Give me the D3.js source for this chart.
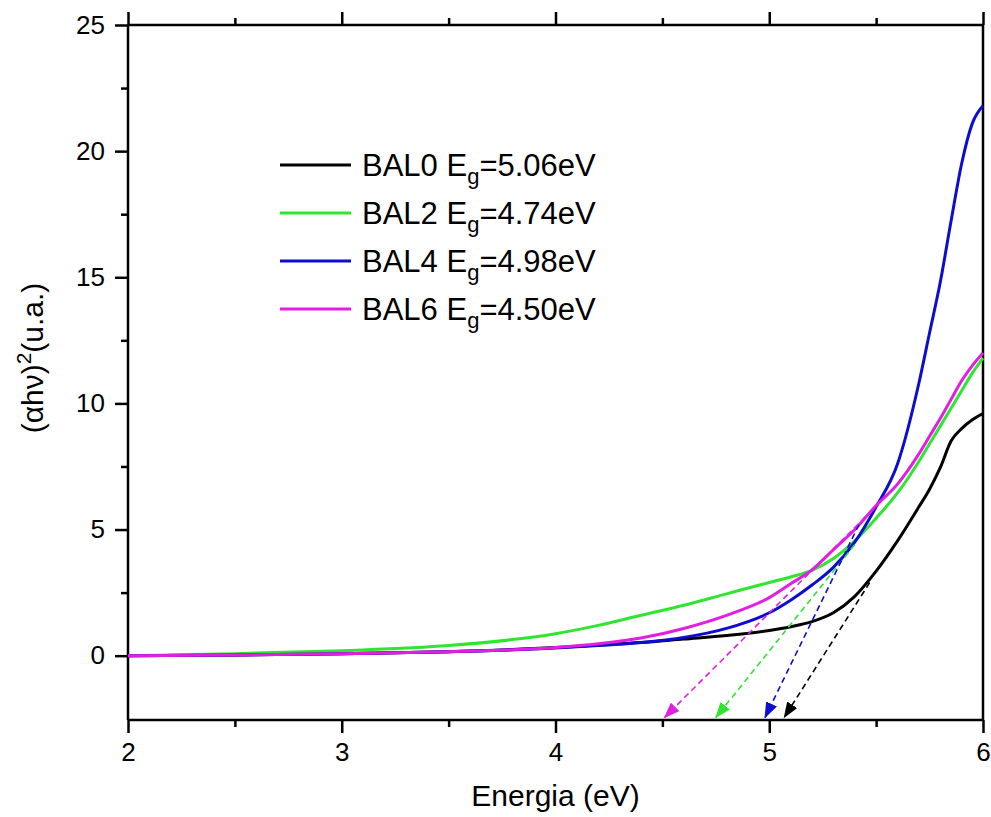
<!DOCTYPE html>
<html>
<head>
<meta charset="utf-8">
<script src="https://cdn.jsdelivr.net/npm/d3@7"></script>
<style>
  body { margin: 0; background: #fff; }
  text { font-family: "Liberation Sans", Arial, sans-serif; fill: #000; }
</style>
</head>
<body>
<div id="chart"></div>
<script>
var width = 991;
var height = 817;
var margin = {top: 25, right: 8, bottom: 97, left: 128};

// energy grid (eV)
var energy = [2, 2.5, 3, 3.5, 4, 4.2, 4.4, 4.6, 4.8, 5, 5.1, 5.2, 5.3, 5.4, 5.5, 5.6, 5.7, 5.75, 5.8, 5.85, 5.9, 5.95, 6];

var bal0 = [0, 0.03, 0.08, 0.16, 0.32, 0.42, 0.52, 0.66, 0.80, 1.0, 1.15, 1.35, 1.7, 2.35, 3.35, 4.55, 5.9, 6.6, 7.45, 8.5, 9.0, 9.35, 9.6];
var bal2 = [0, 0.08, 0.2, 0.4, 0.87, 1.2, 1.6, 2.0, 2.45, 2.9, 3.12, 3.38, 3.85, 4.55, 5.45, 6.45, 7.7, 8.4, 9.1, 9.8, 10.5, 11.2, 11.8];
var bal4 = [0, 0.03, 0.08, 0.16, 0.3, 0.4, 0.52, 0.72, 1.08, 1.7, 2.2, 2.8, 3.5, 4.5, 5.9, 7.6, 10.8, 12.8, 14.8, 17.2, 19.5, 21.1, 21.8];
var bal6 = [0, 0.03, 0.08, 0.16, 0.32, 0.47, 0.7, 1.08, 1.6, 2.3, 2.85, 3.4, 4.2, 5.0, 5.95, 6.8, 8.0, 8.7, 9.4, 10.15, 10.9, 11.5, 12.0];

var names = ['BAL0', 'BAL2', 'BAL4', 'BAL6'];
var gaps = ['5.06', '4.74', '4.98', '4.50'];
var colors = ['#000000', '#2ee62e', '#0d0dd0', '#e21ee2'];

// tangent lines: start point on curve -> Eg on axis
var tanX0 = [5.47, 5.40, 5.42, 5.45];
var tanY0 = [2.9, 4.4, 5.2, 5.5];
var tanEnd = [5.07, 4.75, 4.98, 4.51];

var xTicks = [2, 3, 4, 5, 6];
var xMinor = [2.5, 3.5, 4.5, 5.5];
var yTicks = [0, 5, 10, 15, 20, 25];
var yMinor = [2.5, 7.5, 12.5, 17.5, 22.5];

var series = [bal0, bal2, bal4, bal6];

var svg = d3.select('#chart').append('svg')
  .attr('width', width)
  .attr('height', height);

var x = d3.scaleLinear().domain([2, 6]).range([margin.left, width - margin.right]);
var y = d3.scaleLinear().domain([-2.55, 25]).range([height - margin.bottom, margin.top]);

var defs = svg.append('defs');
colors.forEach(function(c, i) {
  defs.append('marker')
    .attr('id', 'arr' + i)
    .attr('viewBox', '0 0 16 12')
    .attr('refX', 15).attr('refY', 6)
    .attr('markerWidth', 16).attr('markerHeight', 12)
    .attr('markerUnits', 'userSpaceOnUse')
    .attr('orient', 'auto')
    .append('path')
    .attr('d', 'M0,0 L16,6 L0,12 Z')
    .attr('fill', c);
});

// axes
var axisB = svg.append('g')
  .attr('transform', 'translate(0,' + y.range()[0] + ')')
  .call(d3.axisBottom(x).tickValues(xTicks).tickSize(13).tickPadding(10).tickFormat(d3.format('d')));
svg.append('g')
  .attr('class', 'minor')
  .attr('transform', 'translate(0,' + y.range()[0] + ')')
  .call(d3.axisBottom(x).tickValues(xMinor).tickSize(7).tickFormat(''));
var axisT = svg.append('g')
  .attr('transform', 'translate(0,' + margin.top + ')')
  .call(d3.axisTop(x).tickValues(xTicks).tickSize(13).tickFormat(''));
svg.append('g')
  .attr('class', 'minor')
  .attr('transform', 'translate(0,' + margin.top + ')')
  .call(d3.axisTop(x).tickValues(xMinor).tickSize(7).tickFormat(''));
var axisL = svg.append('g')
  .attr('transform', 'translate(' + margin.left + ',0)')
  .call(d3.axisLeft(y).tickValues(yTicks).tickSize(13).tickPadding(10).tickFormat(d3.format('d')));
svg.append('g')
  .attr('class', 'minor')
  .attr('transform', 'translate(' + margin.left + ',0)')
  .call(d3.axisLeft(y).tickValues(yMinor).tickSize(7).tickFormat(''));
var axisR = svg.append('g')
  .attr('transform', 'translate(' + (width - margin.right) + ',0)')
  .call(d3.axisRight(y).tickValues([]).tickSizeOuter(0));

svg.selectAll('.minor .domain').remove();
axisB.select('.domain').attr('d', 'M' + x.range()[0] + ',0H' + x.range()[1]);
axisT.select('.domain').attr('d', 'M' + x.range()[0] + ',0H' + x.range()[1]);
axisL.select('.domain').attr('d', 'M0,' + y.range()[0] + 'V' + y.range()[1]);
axisR.select('.domain').attr('d', 'M0,' + y.range()[0] + 'V' + y.range()[1]);

svg.selectAll('.domain').attr('stroke', '#000').attr('stroke-width', 2.5);
svg.selectAll('.tick line').attr('stroke', '#000').attr('stroke-width', 2.5);
svg.selectAll('.tick text')
  .attr('font-family', '"Liberation Sans", Arial, sans-serif')
  .attr('font-size', 26)
  .attr('fill', '#000');

// curves
var line = d3.line()
  .x(function(d) { return x(d[0]); })
  .y(function(d) { return y(d[1]); })
  .curve(d3.curveMonotoneX);

series.forEach(function(s, i) {
  svg.append('path')
    .datum(energy.map(function(e, j) { return [e, s[j]]; }))
    .attr('fill', 'none')
    .attr('stroke', colors[i])
    .attr('stroke-width', 3)
    .attr('stroke-linejoin', 'round')
    .attr('d', line);
});

// tangent arrows
tanEnd.forEach(function(e, i) {
  svg.append('line')
    .attr('x1', x(tanX0[i]))
    .attr('y1', y(tanY0[i]))
    .attr('x2', x(e))
    .attr('y2', y(-2.45))
    .attr('stroke', colors[i])
    .attr('stroke-width', 1.6)
    .attr('stroke-dasharray', '6,4')
    .attr('marker-end', 'url(#arr' + i + ')');
});

// legend
var legend = svg.append('g');
names.forEach(function(n, i) {
  var ly = 165 + i * 48;
  legend.append('line')
    .attr('x1', 280).attr('x2', 351)
    .attr('y1', ly).attr('y2', ly)
    .attr('stroke', colors[i])
    .attr('stroke-width', 3);
  var t = legend.append('text')
    .attr('x', 362)
    .attr('y', ly + 11)
    .attr('font-size', 31);
  t.append('tspan').text(n + ' E');
  t.append('tspan').attr('dy', 8).attr('font-size', 22).text('g');
  t.append('tspan').attr('dy', -8).text('=' + gaps[i] + 'eV');
});

// axis titles
svg.append('text')
  .attr('x', (x.range()[0] + x.range()[1]) / 2)
  .attr('y', 806)
  .attr('text-anchor', 'middle')
  .attr('font-size', 30)
  .text('Energia (eV)');

var yt = svg.append('text')
  .attr('transform', 'translate(43,358) rotate(-90)')
  .attr('text-anchor', 'middle')
  .attr('font-size', 30);
yt.append('tspan').text('(\u03b1h\u03bd)');
yt.append('tspan').attr('dy', -12).attr('font-size', 21).text('2');
yt.append('tspan').attr('dy', 12).text('(u.a.)');
</script>
</body>
</html>
